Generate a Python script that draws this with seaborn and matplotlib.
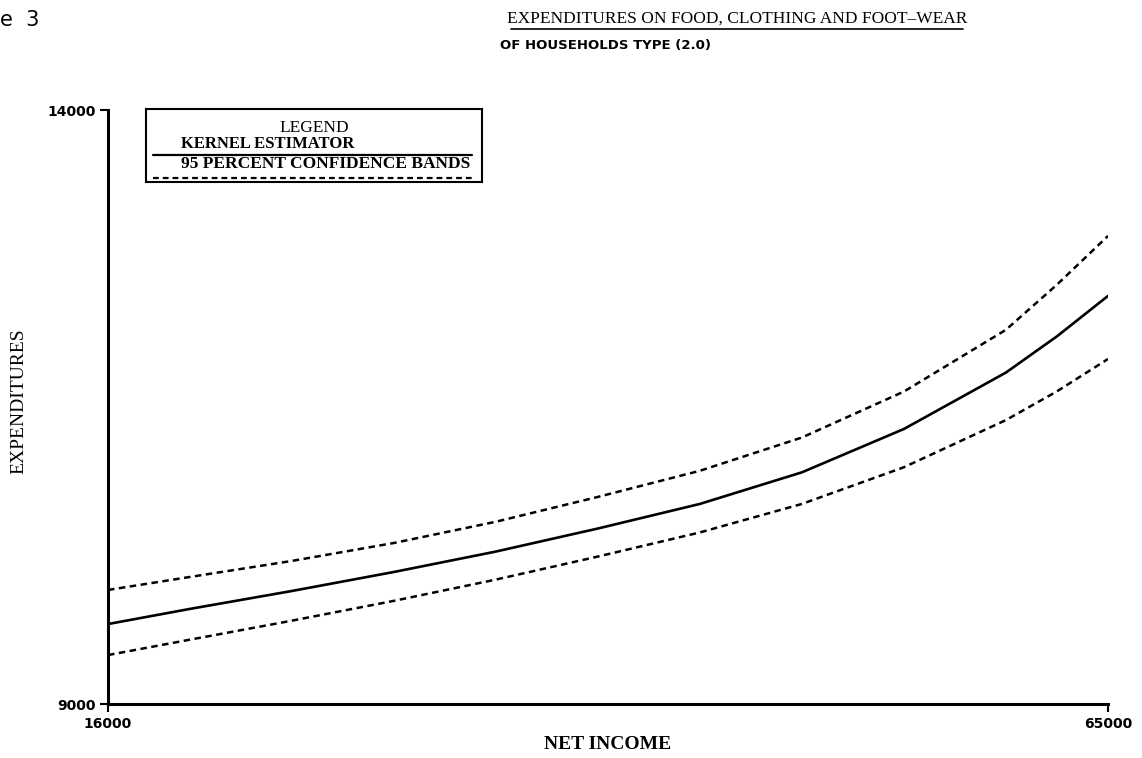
import numpy as np
import pandas as pd
import matplotlib
matplotlib.use("Agg")
import matplotlib.pyplot as plt
import seaborn as sns

# ---- data ----
net_income = [16000, 20000, 25000, 30000, 35000, 40000, 45000, 50000, 55000, 60000, 62500, 65000]
kernel_estimate = [9673, 9800, 9951, 10111, 10283, 10477, 10684, 10950, 11315, 11790, 12095, 12435]
upper_band = [9960, 10069, 10204, 10355, 10534, 10743, 10963, 11243, 11630, 12150, 12530, 12940]
lower_band = [9412, 9541, 9701, 9868, 10047, 10241, 10444, 10684, 10993, 11390, 11632, 11904]

x_ticks = [16000, 65000]
y_ticks = [9000, 14000]

title = "EXPENDITURES ON FOOD, CLOTHING AND FOOT\u2013WEAR"
subtitle = "OF HOUSEHOLDS TYPE (2.0)"
legend_title = "LEGEND"
label_est = "KERNEL ESTIMATOR"
label_band = "95 PERCENT CONFIDENCE BANDS"

sns.set_theme(style="white")
plt.rcParams["font.family"] = ["Liberation Serif", "DejaVu Serif"]
plt.rcParams["text.color"] = "black"
plt.rcParams["axes.labelcolor"] = "black"
plt.rcParams["xtick.color"] = "black"
plt.rcParams["ytick.color"] = "black"

df = pd.DataFrame({"income": net_income, "est": kernel_estimate,
                   "up": upper_band, "lo": lower_band})

fig = plt.figure(figsize=(11.42, 7.58), dpi=100)
ax = fig.add_axes([108 / 1142, 1 - 704 / 758, 1000 / 1142, 594 / 758])

dash = (0, (2.6, 1.8))
sns.lineplot(data=df, x="income", y="est", color="black", lw=1.9, ax=ax)
sns.lineplot(data=df, x="income", y="up", color="black", lw=1.8, ax=ax, linestyle=dash)
sns.lineplot(data=df, x="income", y="lo", color="black", lw=1.8, ax=ax, linestyle=dash)

ax.set_xlim(16000, 65000)
ax.set_ylim(9000, 14000)
ax.tick_params(axis="both", direction="out", length=6, width=1.5, color="black",
               bottom=True, left=True, pad=3, labelsize=10, labelcolor="black")
ax.set_xticks(x_ticks)
ax.set_yticks(y_ticks)
tick_font = dict(fontsize=10, fontweight="bold", family=["DejaVu Sans"], color="black")
ax.set_xticklabels([str(v) for v in x_ticks], **tick_font)
ax.set_yticklabels([str(v) for v in y_ticks], **tick_font)
for s in ["top", "right"]:
    ax.spines[s].set_visible(False)
for s in ["left", "bottom"]:
    ax.spines[s].set_color("black")
    ax.spines[s].set_linewidth(2.2)

ax.set_xlabel("NET INCOME", fontsize=14, fontweight="bold", labelpad=4, color="black")
ax.set_ylabel("EXPENDITURES", fontsize=14, color="black")
ax.yaxis.set_label_coords(-0.081, 0.51)

# titles
fig.text(737 / 1142, 1 - 19 / 758, title, ha="center", va="center", fontsize=12.5,
         color="black")
fig.add_artist(plt.Line2D([511 / 1142, 963 / 1142], [1 - 29 / 758, 1 - 29 / 758],
                          color="black", lw=1.2))
fig.text(605 / 1142, 1 - 45 / 758, subtitle, ha="center", va="center",
         fontsize=9.5, fontweight="bold", family=["DejaVu Sans"], color="black")
fig.text(0.0, 1 - 20 / 758, "e  3", ha="left", va="center", fontsize=15,
         family=["DejaVu Sans"], color="black")

# legend box
lax = fig.add_axes([146 / 1142, 1 - 182 / 758, 336 / 1142, 73 / 758])
lax.set_xlim(0, 1)
lax.set_ylim(0, 1)
lax.set_xticks([])
lax.set_yticks([])
for s in lax.spines.values():
    s.set_color("black")
    s.set_linewidth(1.5)
lax.text(0.5, 0.74, legend_title, ha="center", va="center", fontsize=12.5, color="black")
lax.text(0.105, 0.52, label_est, ha="left", va="center", fontsize=12, fontweight="bold",
         color="black")
lax.plot([0.02, 0.97], [0.37, 0.37], color="black", lw=1.6)
lax.text(0.105, 0.24, label_band, ha="left", va="center", fontsize=12.5, fontweight="bold",
         color="black")
lax.plot([0.02, 0.98], [0.05, 0.05], color="black", lw=1.6, linestyle=dash)

fig.savefig("out.png", dpi=100)
